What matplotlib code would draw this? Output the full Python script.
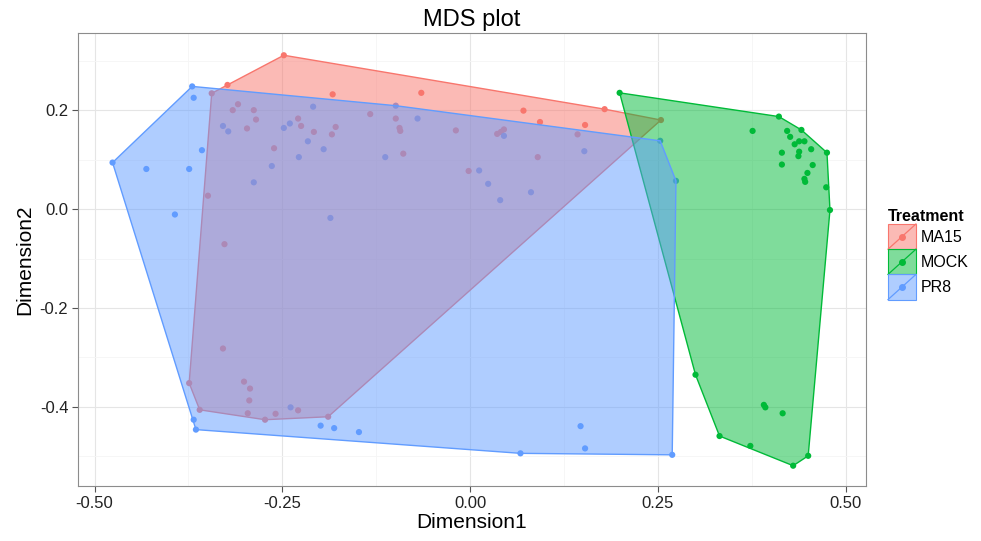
import matplotlib.pyplot as plt
from matplotlib.legend_handler import HandlerBase
from matplotlib.patches import Rectangle
from matplotlib.lines import Line2D
from matplotlib.colors import to_rgba

plt.rcParams['font.family'] = ['Liberation Sans', 'DejaVu Sans']

treatments = ['MA15', 'MOCK', 'PR8']
colors = ['#F8766D', '#00BA38', '#619CFF']

# MDS coordinates per treatment
ma15_x = [-0.248, -0.323, -0.183, -0.133, -0.344, -0.316, -0.309, -0.288, -0.285, -0.297,
          -0.229, -0.225, -0.208, -0.179, -0.184, -0.261, -0.349, -0.327, -0.065, 0.071,
          0.093, 0.153, 0.179, 0.254, -0.099, -0.094, -0.093, -0.019, 0.036, 0.041,
          0.045, 0.143, -0.089, 0.090, -0.002, -0.329, -0.374, -0.360, -0.301, -0.293,
          -0.294, -0.296, -0.273, -0.259, -0.229, -0.189]
ma15_y = [0.311, 0.251, 0.232, 0.192, 0.234, 0.200, 0.212, 0.200, 0.181, 0.163,
          0.183, 0.168, 0.156, 0.166, 0.151, 0.123, 0.027, -0.071, 0.235, 0.199,
          0.176, 0.170, 0.202, 0.180, 0.183, 0.164, 0.158, 0.159, 0.152, 0.156,
          0.161, 0.151, 0.112, 0.105, 0.077, -0.282, -0.352, -0.406, -0.349, -0.363,
          -0.387, -0.413, -0.426, -0.414, -0.407, -0.420]

mock_x = [0.199, 0.411, 0.441, 0.475, 0.474, 0.479, 0.376, 0.422, 0.426, 0.432,
          0.438, 0.445, 0.454, 0.438, 0.437, 0.415, 0.415, 0.456, 0.449, 0.445,
          0.446, 0.300, 0.332, 0.373, 0.430, 0.450, 0.391, 0.393, 0.416]
mock_y = [0.235, 0.187, 0.160, 0.114, 0.044, -0.002, 0.158, 0.158, 0.146, 0.131,
          0.137, 0.137, 0.121, 0.116, 0.107, 0.114, 0.090, 0.089, 0.073, 0.061,
          0.055, -0.335, -0.459, -0.479, -0.519, -0.499, -0.396, -0.401, -0.413]

pr8_x = [-0.370, -0.368, -0.476, -0.431, -0.374, -0.357, -0.393, -0.329, -0.322, -0.248,
         -0.240, -0.209, -0.216, -0.195, -0.228, -0.264, -0.288, -0.186, -0.099, -0.070,
         0.045, 0.152, -0.113, 0.012, 0.024, 0.040, 0.081, 0.253, 0.274, -0.239,
         -0.368, -0.365, -0.199, -0.181, -0.148, 0.067, 0.147, 0.153, 0.269]
pr8_y = [0.248, 0.225, 0.094, 0.081, 0.081, 0.119, -0.011, 0.168, 0.157, 0.164,
         0.173, 0.207, 0.137, 0.121, 0.105, 0.087, 0.054, -0.018, 0.209, 0.183,
         0.148, 0.117, 0.105, 0.078, 0.051, 0.018, 0.034, 0.138, 0.057, -0.401,
         -0.426, -0.446, -0.438, -0.443, -0.451, -0.494, -0.439, -0.484, -0.497]

x_ticks = [-0.50, -0.25, 0.00, 0.25, 0.50]
x_minor = [-0.375, -0.125, 0.125, 0.375]
y_ticks = [-0.4, -0.2, 0.0, 0.2]
y_minor = [-0.5, -0.3, -0.1, 0.1, 0.3]

groups = [(ma15_x, ma15_y), (mock_x, mock_y), (pr8_x, pr8_y)]


def convex_hull(xs, ys):
    pts = sorted(set(zip(xs, ys)))

    def cross(o, a, b):
        return (a[0] - o[0]) * (b[1] - o[1]) - (a[1] - o[1]) * (b[0] - o[0])

    lower, upper = [], []
    for p in pts:
        while len(lower) >= 2 and cross(lower[-2], lower[-1], p) <= 0:
            lower.pop()
        lower.append(p)
    for p in reversed(pts):
        while len(upper) >= 2 and cross(upper[-2], upper[-1], p) <= 0:
            upper.pop()
        upper.append(p)
    hull = lower[:-1] + upper[:-1]
    return [p[0] for p in hull], [p[1] for p in hull]


class HullKey(HandlerBase):
    def create_artists(self, legend, orig_handle, xdescent, ydescent,
                       width, height, fontsize, trans):
        c = orig_handle.get_color()
        x0, y0 = -xdescent, -ydescent
        rect = Rectangle((x0, y0), width, height, facecolor=to_rgba(c, 0.5),
                         edgecolor=c, lw=0.8, transform=trans)
        diag = Line2D([x0, x0 + width], [y0, y0 + height], color=c, lw=0.9,
                      transform=trans)
        dot = Line2D([x0 + width / 2], [y0 + height / 2], marker='o', ms=4,
                     color=c, lw=0, transform=trans)
        return [rect, diag, dot]


fig = plt.figure(figsize=(9.81, 5.41), dpi=100)
ax = fig.add_axes([0.0795, 0.1017, 0.8033, 0.8373])

# points first, hulls drawn over them
for (xs, ys), c in zip(groups, colors):
    ax.scatter(xs, ys, s=20, color=c, edgecolors='none', zorder=2)

for (xs, ys), c in zip(groups, colors):
    hx, hy = convex_hull(xs, ys)
    ax.fill(hx, hy, facecolor=to_rgba(c, 0.5), edgecolor=c, lw=1.0, zorder=3)

ax.set_xlim(-0.522, 0.527)
ax.set_ylim(-0.560, 0.356)
ax.set_xticks(x_ticks)
ax.set_xticklabels(['%.2f' % v for v in x_ticks])
ax.set_xticks(x_minor, minor=True)
ax.set_yticks(y_ticks)
ax.set_yticklabels(['%.1f' % v for v in y_ticks])
ax.set_yticks(y_minor, minor=True)

ax.grid(which='major', color='#E5E5E5', lw=0.8, zorder=0)
ax.grid(which='minor', color='#F5F5F5', lw=0.6, zorder=0)
ax.set_axisbelow(True)
ax.tick_params(which='major', length=4, width=0.8, color='#555555',
               labelsize=12, labelcolor='#222222', pad=3)
ax.tick_params(which='minor', length=0)
for s in ax.spines.values():
    s.set_color('#8C8C8C')
    s.set_linewidth(0.8)

ax.set_title('MDS plot', fontsize=17, pad=5)
ax.set_xlabel('Dimension1', fontsize=15, labelpad=2)
ax.set_ylabel('Dimension2', fontsize=15, labelpad=4)

handles = [Line2D([], [], color=c) for c in colors]
leg = fig.legend(handles, treatments, handler_map={Line2D: HullKey()},
                 title='Treatment', loc='upper left',
                 bbox_to_anchor=(888 / 981, 1 - 209 / 541),
                 frameon=False, fontsize=11.5, handlelength=1.75,
                 handleheight=2.05, labelspacing=0.0, handletextpad=0.3,
                 borderpad=0, borderaxespad=0, alignment='left',
                 title_fontproperties={'weight': 'bold', 'size': 11.5})

fig.savefig('out.png', dpi=100)
